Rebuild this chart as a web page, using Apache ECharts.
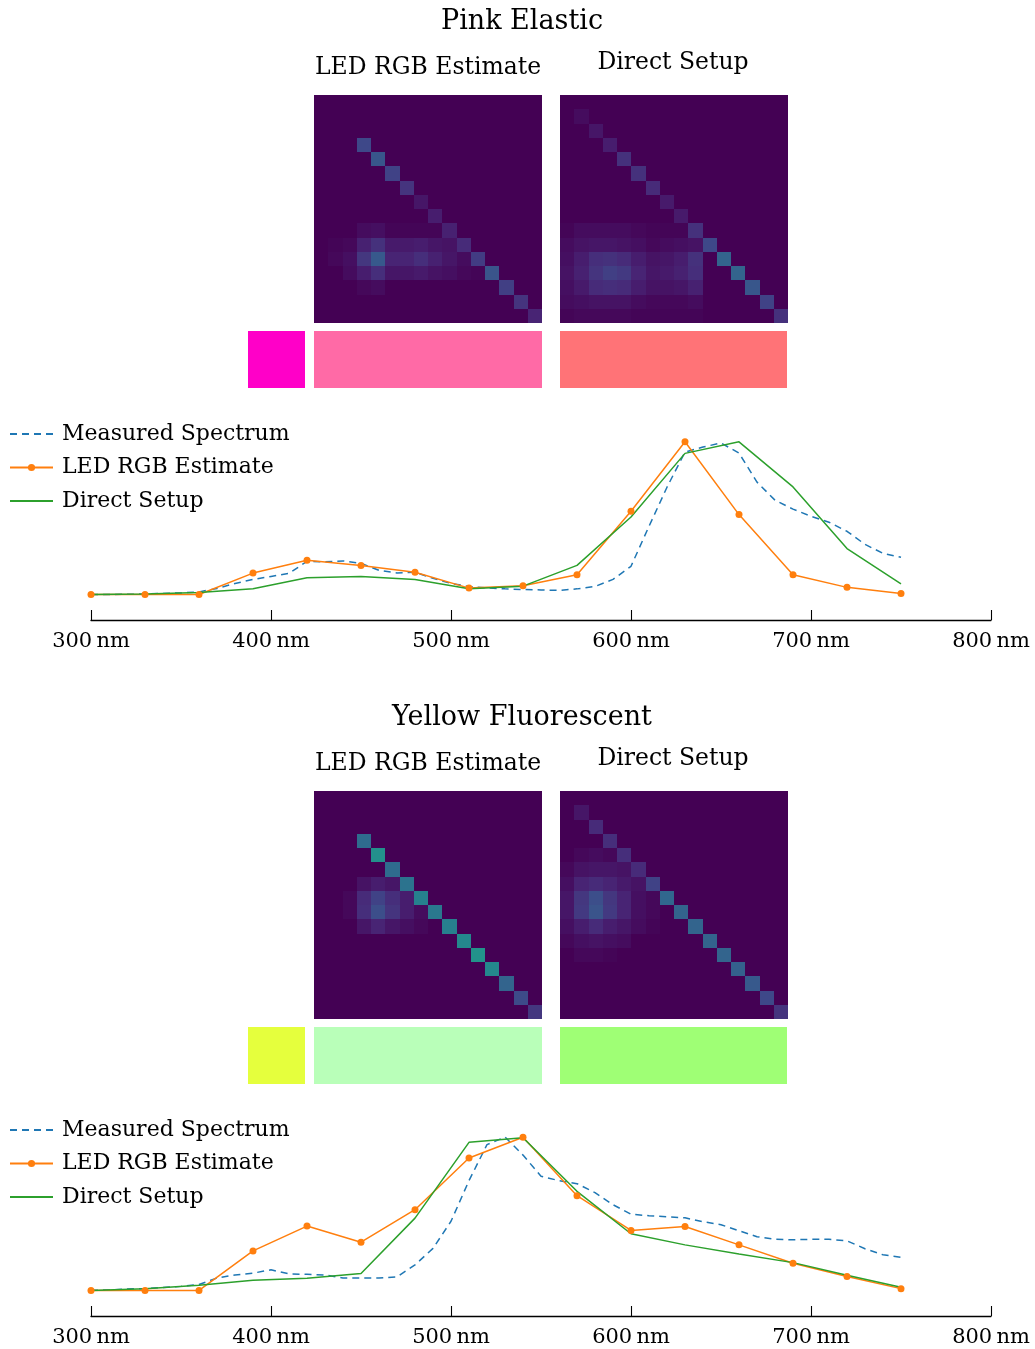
<!DOCTYPE html>
<html>
<head>
<meta charset="utf-8">
<script src="https://cdn.jsdelivr.net/npm/echarts@6/dist/echarts.min.js"></script>
<style>
html,body{margin:0;padding:0;background:#fff;}
#chart{width:1035px;height:1349px;}
</style>
</head>
<body>
<div id="chart"></div>
<script>
// ---------------- DATA ----------------
const panelTitles = ['Pink Elastic', 'Yellow Fluorescent'];
const methodTitles = ['LED RGB Estimate', 'Direct Setup'];
const seriesNames = ['Measured Spectrum', 'LED RGB Estimate', 'Direct Setup'];
const xTicks = [300, 400, 500, 600, 700, 800];

const wlCoarse = [300,330,360,390,420,450,480,510,540,570,600,630,660,690,720,750];
const wlFine = [300,310,320,330,340,350,360,370,380,390,400,410,420,430,440,450,460,470,480,490,500,510,520,530,540,550,560,570,580,590,600,610,620,630,640,650,660,670,680,690,700,710,720,730,740,750];

const pinkMeasured = [0,0,0.001,0.003,0.007,0.01,0.017,0.04,0.073,0.1,0.12,0.14,0.22,0.217,0.223,0.207,0.16,0.143,0.147,0.107,0.073,0.053,0.043,0.037,0.033,0.03,0.027,0.037,0.053,0.1,0.187,0.453,0.713,0.947,0.98,1.007,0.94,0.747,0.627,0.567,0.52,0.48,0.42,0.333,0.273,0.247];
const pinkLed = [0,0,0,0.142,0.227,0.193,0.147,0.042,0.058,0.131,0.553,1.015,0.531,0.131,0.047,0.007];
const pinkDirect = [0,0.003,0.013,0.038,0.111,0.12,0.1,0.038,0.055,0.193,0.515,0.938,1.015,0.715,0.305,0.071];

const yellowMeasured = [0.001,0.003,0.01,0.013,0.02,0.027,0.039,0.083,0.103,0.115,0.137,0.11,0.107,0.103,0.083,0.083,0.083,0.09,0.17,0.28,0.46,0.73,0.97,1.02,0.9,0.76,0.73,0.71,0.65,0.57,0.507,0.497,0.49,0.483,0.457,0.437,0.397,0.357,0.34,0.337,0.34,0.34,0.33,0.277,0.237,0.22];
const yellowLed = [0,0,0,0.263,0.428,0.321,0.537,0.881,1.019,0.63,0.399,0.425,0.303,0.181,0.092,0.012];
const yellowDirect = [0,0.012,0.035,0.068,0.081,0.112,0.481,0.985,1.015,0.659,0.377,0.303,0.243,0.185,0.101,0.021];

const pinkSwatches = ['#ff00c8', '#ff6aa6', '#ff7377'];
const yellowSwatches = ['#e5ff3d', '#b9ffb9', '#9fff75'];

const pinkLedMatrix = [
  [0,0,0,0,0,0,0,0,0,0,0,0,0,0,0,0],
  [0,0,0,0,0,0,0,0,0,0,0,0,0,0,0,0],
  [0,0,0,0,0,0,0,0,0,0,0,0,0,0,0,0],
  [0,0,0,.22,0,0,0,0,0,0,0,0,0,0,0,0],
  [0,0,0,0,.27,0,0,0,0,0,0,0,0,0,0,0],
  [0,0,0,0,0,.2,0,0,0,0,0,0,0,0,0,0],
  [0,0,0,0,0,0,.15,0,0,0,0,0,0,0,0,0],
  [0,0,0,0,0,0,0,.06,0,0,0,0,0,0,0,0],
  [0,0,0,0,0,0,0,0,.08,0,0,0,0,0,0,0],
  [0,0,0,.03,.04,.01,.01,.01,.01,.09,0,0,0,0,0,0],
  [0,.01,.02,.09,.14,.07,.07,.08,.06,.05,.12,0,0,0,0,0],
  [0,.02,.04,.16,.28,.1,.1,.13,.09,.06,.03,.18,0,0,0,0],
  [0,0,.03,.08,.13,.06,.06,.07,.05,.04,.02,.01,.26,0,0,0],
  [0,0,0,.02,.03,0,0,0,0,0,0,0,0,.19,0,0],
  [0,0,0,0,0,0,0,0,0,0,0,0,0,0,.15,0],
  [0,0,0,0,0,0,0,0,0,0,0,0,0,0,0,.1]
];
const pinkDirectMatrix = [
  [0,0,0,0,0,0,0,0,0,0,0,0,0,0,0,0],
  [0,.03,0,0,0,0,0,0,0,0,0,0,0,0,0,0],
  [0,0,.06,0,0,0,0,0,0,0,0,0,0,0,0,0],
  [0,0,0,.08,0,0,0,0,0,0,0,0,0,0,0,0],
  [0,0,0,0,.14,0,0,0,0,0,0,0,0,0,0,0],
  [0,0,0,0,0,.14,0,0,0,0,0,0,0,0,0,0],
  [0,0,0,0,0,0,.12,0,0,0,0,0,0,0,0,0],
  [0,0,0,0,0,0,0,.07,0,0,0,0,0,0,0,0],
  [0,0,0,0,0,0,0,0,.07,0,0,0,0,0,0,0],
  [.01,.03,.03,.03,.03,.02,.01,.01,.01,.14,0,0,0,0,0,0],
  [.03,.05,.06,.06,.05,.04,.02,.03,.04,.05,.22,0,0,0,0,0],
  [.04,.08,.13,.14,.12,.08,.05,.06,.08,.14,0,.32,0,0,0,0],
  [.05,.09,.15,.19,.17,.1,.06,.07,.09,.13,0,0,.32,0,0,0],
  [.04,.07,.12,.13,.12,.08,.05,.05,.06,.09,0,0,0,.27,0,0],
  [.03,.04,.05,.05,.05,.03,.02,.02,.02,.03,0,0,0,0,.2,0],
  [.01,.02,.02,.02,.02,.01,.01,.01,.01,.01,0,0,0,0,0,.14]
];
const yellowLedMatrix = [
  [0,0,0,0,0,0,0,0,0,0,0,0,0,0,0,0],
  [0,0,0,0,0,0,0,0,0,0,0,0,0,0,0,0],
  [0,0,0,0,0,0,0,0,0,0,0,0,0,0,0,0],
  [0,0,0,.35,0,0,0,0,0,0,0,0,0,0,0,0],
  [0,0,0,0,.5,0,0,0,0,0,0,0,0,0,0,0],
  [0,0,0,0,0,.35,0,0,0,0,0,0,0,0,0,0],
  [0,0,0,.05,.08,.06,.38,0,0,0,0,0,0,0,0,0],
  [0,0,.02,.12,.2,.13,.08,.44,0,0,0,0,0,0,0,0],
  [0,0,.02,.13,.24,.15,.08,.03,.4,0,0,0,0,0,0,0],
  [0,0,0,.06,.1,.06,.04,.02,0,.43,0,0,0,0,0,0],
  [0,0,0,0,0,0,0,0,0,0,.47,0,0,0,0,0],
  [0,0,0,0,0,0,0,0,0,0,0,.51,0,0,0,0],
  [0,0,0,0,0,0,0,0,0,0,0,0,.47,0,0,0],
  [0,0,0,0,0,0,0,0,0,0,0,0,0,.32,0,0],
  [0,0,0,0,0,0,0,0,0,0,0,0,0,0,.23,0],
  [0,0,0,0,0,0,0,0,0,0,0,0,0,0,0,.16]
];
const yellowDirectMatrix = [
  [0,0,0,0,0,0,0,0,0,0,0,0,0,0,0,0],
  [0,.06,0,0,0,0,0,0,0,0,0,0,0,0,0,0],
  [0,0,.12,0,0,0,0,0,0,0,0,0,0,0,0,0],
  [0,0,0,.13,0,0,0,0,0,0,0,0,0,0,0,0],
  [0,.02,.03,.02,.13,0,0,0,0,0,0,0,0,0,0,0],
  [.02,.05,.06,.06,.05,.12,0,0,0,0,0,0,0,0,0,0],
  [.04,.1,.12,.1,.07,.05,.2,0,0,0,0,0,0,0,0,0],
  [.06,.16,.24,.16,.1,.04,.02,.33,0,0,0,0,0,0,0,0],
  [.06,.17,.26,.17,.1,.04,.02,0,.32,0,0,0,0,0,0,0],
  [.04,.08,.12,.08,.06,.03,.01,0,0,.32,0,0,0,0,0,0],
  [.02,.04,.05,.04,.03,0,0,0,0,0,.32,0,0,0,0,0],
  [0,.02,.02,.01,0,0,0,0,0,0,0,.32,0,0,0,0],
  [0,0,0,0,0,0,0,0,0,0,0,0,.31,0,0,0],
  [0,0,0,0,0,0,0,0,0,0,0,0,0,.28,0,0],
  [0,0,0,0,0,0,0,0,0,0,0,0,0,0,.22,0],
  [0,0,0,0,0,0,0,0,0,0,0,0,0,0,0,.15]
];

// ---------------- BUILD ----------------
const FONT = 'DejaVu Serif';
const viridis = ['#440154','#482878','#3e4989','#31688e','#26828e','#1f9e89','#35b779','#6ece58','#b5de2b','#fde725'];
const COLORS = {measured:'#1f77b4', led:'#ff7f0e', direct:'#2ca02c'};

const panels = [
  {title: panelTitles[0], mats:[pinkLedMatrix, pinkDirectMatrix], sw: pinkSwatches, meas: pinkMeasured, led: pinkLed, dir: pinkDirect},
  {title: panelTitles[1], mats:[yellowLedMatrix, yellowDirectMatrix], sw: yellowSwatches, meas: yellowMeasured, led: yellowLed, dir: yellowDirect}
];
const OFFSET = 696;
const cats16 = Array.from({length:16}, (_, i) => i);

const grid = [], xAxis = [], yAxis = [], series = [], graphic = [], legend = [];
const heatIdx = [];
function addGrid(g) { grid.push(g); return grid.length - 1; }

function renderCell(params, api) {
  const c = api.coord([api.value(0), api.value(1)]);
  const s = api.size([1, 1]);
  const x0 = Math.round(c[0] - s[0] / 2), x1 = Math.round(c[0] + s[0] / 2);
  const y0 = Math.round(c[1] - s[1] / 2), y1 = Math.round(c[1] + s[1] / 2);
  return {type:'rect', shape:{x:x0, y:y0, width:x1 - x0, height:y1 - y0}, style:{fill: api.visual('color')}};
}

panels.forEach((p, pi) => {
  const dy = pi * OFFSET;
  graphic.push({type:'text', x:522, y:22 + dy, style:{text:p.title, font:'27px "' + FONT + '"', fill:'#000', textAlign:'center', textVerticalAlign:'middle'}});
  graphic.push({type:'text', x:428, y:68 + dy, style:{text:methodTitles[0], font:'23.5px "' + FONT + '"', fill:'#000', textAlign:'center', textVerticalAlign:'middle'}});
  graphic.push({type:'text', x:673, y:63 + dy, style:{text:methodTitles[1], font:'23.5px "' + FONT + '"', fill:'#000', textAlign:'center', textVerticalAlign:'middle'}});

  // heatmaps
  const hmLefts = [314, 560];
  p.mats.forEach((m, mi) => {
    const gi = addGrid({left: hmLefts[mi], top: 95 + dy, width: 228, height: 228});
    xAxis.push({type:'category', gridIndex: gi, data: cats16, show:false});
    yAxis.push({type:'category', gridIndex: gi, data: cats16, show:false, inverse:true});
    const data = [];
    m.forEach((row, r) => row.forEach((v, c) => data.push([c, r, v])));
    heatIdx.push(series.length);
    series.push({type:'custom', xAxisIndex: xAxis.length - 1, yAxisIndex: yAxis.length - 1, data,
      encode:{x:0, y:1}, renderItem: renderCell, silent:true});
  });

  // swatches
  const swBoxes = [[248, 57], [314, 228], [560, 227]];
  p.sw.forEach((col, si) => {
    const gi = addGrid({left: swBoxes[si][0], top: 331 + dy, width: swBoxes[si][1], height: 57});
    xAxis.push({type:'category', gridIndex: gi, data:['c'], show:false});
    yAxis.push({type:'value', gridIndex: gi, min:0, max:1, show:false});
    series.push({type:'bar', xAxisIndex: xAxis.length - 1, yAxisIndex: yAxis.length - 1, data:[1], barWidth:'100%', itemStyle:{color: col}, silent:true});
  });

  // line chart
  const gi = addGrid({left: 91, top: 420 + dy, width: 900, height: 200});
  xAxis.push({type:'value', gridIndex: gi, min: xTicks[0], max: xTicks[xTicks.length-1], interval: 100,
    axisLine:{show:true, onZero:false, lineStyle:{color:'#000', width:1.3}},
    axisTick:{show:true, inside:true, length:10, lineStyle:{color:'#000', width:1.1}},
    splitLine:{show:false},
    axisLabel:{formatter: v => v + '\u2009nm', color:'#000', fontFamily: FONT, fontSize: 21, margin: 11}});
  yAxis.push({type:'value', gridIndex: gi, min:-0.17, max:1.16, show:false, splitLine:{show:false}});
  const xi = xAxis.length - 1, yi = yAxis.length - 1;
  series.push({name: seriesNames[0], type:'line', xAxisIndex: xi, yAxisIndex: yi,
    data: wlFine.map((w, i) => [w, p.meas[i]]), showSymbol:false, symbol:'none',
    lineStyle:{color: COLORS.measured, width:1.5, type:[7,5]}, itemStyle:{color: COLORS.measured}, silent:true});
  series.push({name: seriesNames[1], type:'line', xAxisIndex: xi, yAxisIndex: yi,
    data: wlCoarse.map((w, i) => [w, p.led[i]]), symbol:'circle', symbolSize:7,
    lineStyle:{color: COLORS.led, width:1.5}, itemStyle:{color: COLORS.led}, silent:true});
  series.push({name: seriesNames[2], type:'line', xAxisIndex: xi, yAxisIndex: yi,
    data: wlCoarse.map((w, i) => [w, p.dir[i]]), showSymbol:false, symbol:'none',
    lineStyle:{color: COLORS.direct, width:1.5}, itemStyle:{color: COLORS.direct}, silent:true});

  legend.push({orient:'vertical', left: 4, top: 418 + dy, itemWidth: 43, itemHeight: 9, itemGap: 11.5,
    data: [
      {name: seriesNames[0], itemStyle:{opacity:0}},
      {name: seriesNames[1]},
      {name: seriesNames[2], itemStyle:{opacity:0}}
    ], selectedMode:false,
    textStyle:{fontFamily: FONT, fontSize: 22, color:'#000', padding:[0,0,0,4]}});
});

const chart = echarts.init(document.getElementById('chart'), null, {renderer:'canvas'});
chart.setOption({
  animation: false,
  backgroundColor: '#fff',
  grid, xAxis, yAxis, series, graphic, legend,
  visualMap: {show:false, type:'continuous', min:0, max:1, seriesIndex: heatIdx, dimension: 2, inRange:{color: viridis}}
});
</script>
</body>
</html>
